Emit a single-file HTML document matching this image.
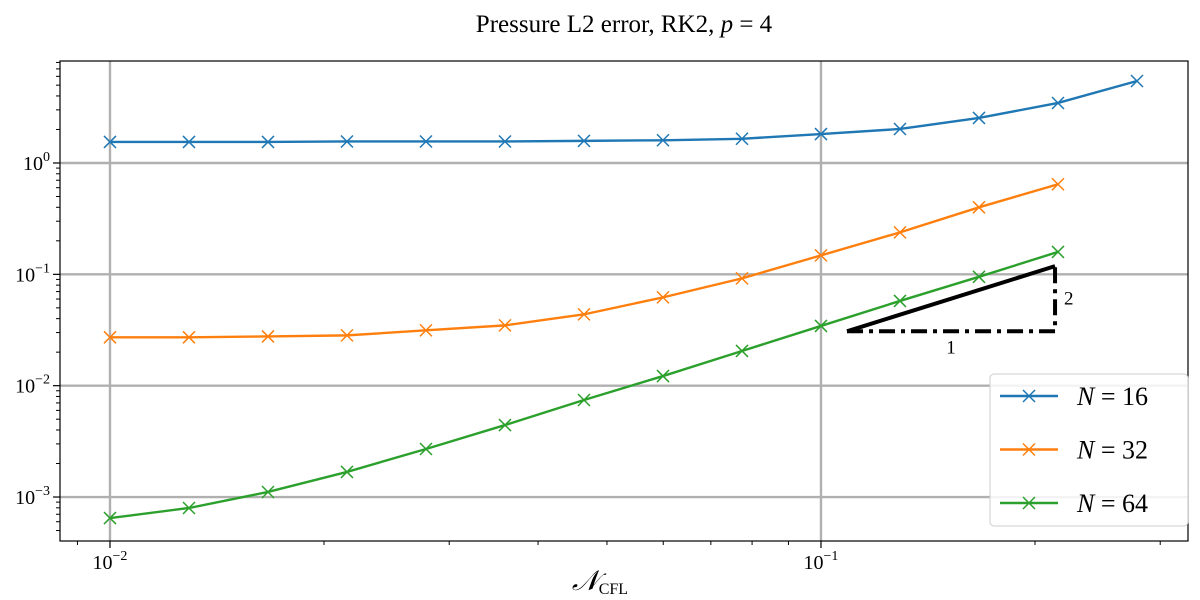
<!DOCTYPE html>
<html><head><meta charset="utf-8">
<style>
html,body{margin:0;padding:0;background:#fff;}
svg{display:block;font-family:"Liberation Serif","DejaVu Serif",serif;}
</style></head>
<body>
<svg id="chart" width="1200" height="600" viewBox="0 0 1200 600">
<text x="624" y="32" font-size="25" text-anchor="middle">Pressure L2 error, RK2, <tspan font-style="italic">p</tspan> = 4</text>
<g id="grid"></g>
<g id="series"></g>
<g id="triangle"></g>
<rect x="60" y="61" width="1128" height="480" fill="none" stroke="#000" stroke-width="1.2"/>
<g id="axes"></g>
<text x="600" y="590" font-size="28" text-anchor="middle"><tspan font-style="italic">𝒩</tspan><tspan font-size="16" dy="4">CFL</tspan></text>
<g id="legend"></g>
</svg>
<script>
const xExp = [0,1,2,3,4,5,6,7,8,9,10,11,12,13];
const seriesNames = ["N = 16","N = 32","N = 64"];
const n16 = [1.545,1.545,1.545,1.56,1.56,1.56,1.58,1.6,1.65,1.82,2.02,2.54,3.46,5.45];
const n32 = [0.0272,0.0272,0.0277,0.0283,0.0314,0.0348,0.0437,0.0621,0.092,0.148,0.238,0.40,0.644];
const n64 = [0.000647,0.000797,0.00111,0.00168,0.0027,0.00443,0.00744,0.0122,0.0205,0.0344,0.0577,0.095,0.159];
const colors = ["#1f77b4","#ff7f0e","#2ca02c"];
const xMajor = [-2,-1];
const yMajor = [-3,-2,-1,0];
const tri = {x0:0.1088, x1:0.2134, y0:0.0308, slope:2};

const NS="http://www.w3.org/2000/svg";
const L=60,R=1188,T=61,B=541;
const xmin=-2.0703,xmax=-0.4838,ymin=-3.395,ymax=0.916;
const X=v=>L+(Math.log10(v)-xmin)/(xmax-xmin)*(R-L);
const Y=v=>B-(Math.log10(v)-ymin)/(ymax-ymin)*(B-T);
function mk(tag,attrs,parent){const e=document.createElementNS(NS,tag);for(const k in attrs)e.setAttribute(k,attrs[k]);parent.appendChild(e);return e;}
const grid=document.getElementById('grid'),axes=document.getElementById('axes');
xMajor.forEach(e=>{const x=X(Math.pow(10,e));
 const g=mk('line',{x1:x,x2:x,y1:T,y2:B,stroke:'#b0b0b0','stroke-width':2.4},grid);
 
 
 mk('line',{x1:x,x2:x,y1:B,y2:B+7,stroke:'#000','stroke-width':1.2},axes);
 const t=mk('text',{x:x,y:B+28,'font-size':20,'text-anchor':'middle'},axes);
 
 
 t.innerHTML='10<tspan font-size="14" dy="-9">'+(e<0?'−':'')+Math.abs(e)+'</tspan>';
});
for(let e=-3;e<=0;e++)for(let m=2;m<=9;m++){const v=m*Math.pow(10,e);const x=X(v);if(x>L&&x<R)mk('line',{x1:x,x2:x,y1:B,y2:B+4,stroke:'#000','stroke-width':1},axes);}
yMajor.forEach(e=>{const y=Y(Math.pow(10,e));
 const g=mk('line',{x1:L,x2:R,y1:y,y2:y,stroke:'#b0b0b0','stroke-width':2.4},grid);
 
 
 mk('line',{x1:L-7,x2:L,y1:y,y2:y,stroke:'#000','stroke-width':1.2},axes);
 const t=mk('text',{x:L-10,y:y+7,'font-size':20,'text-anchor':'end'},axes);
 
 
 t.innerHTML='10<tspan font-size="14" dy="-9">'+(e<0?'−':'')+Math.abs(e)+'</tspan>';
});
for(let e=-4;e<=0;e++)for(let m=2;m<=9;m++){const v=m*Math.pow(10,e);const y=Y(v);if(y>T&&y<B)mk('line',{x1:L-4,x2:L,y1:y,y2:y,stroke:'#000','stroke-width':1},axes);}
const sl=document.getElementById('series');
[n16,n32,n64].forEach((d,i)=>{
 const pts=d.map((v,j)=>[X(0.01*Math.pow(10,xExp[j]/9)),Y(v)]);
 const p=mk('polyline',{points:pts.map(p=>p.join(',')).join(' '),fill:'none',stroke:colors[i],'stroke-width':2.4},sl);
 
 
 pts.forEach(([x,y])=>{const m=mk('path',{d:`M${x-6},${y-6}L${x+6},${y+6}M${x-6},${y+6}L${x+6},${y-6}`,stroke:colors[i],'stroke-width':1.5},sl);
  
  });
});
const tg=document.getElementById('triangle');
const tx0=X(tri.x0),tx1=X(tri.x1),ty0=Y(tri.y0),ty1=Y(tri.y0*Math.pow(tri.x1/tri.x0,tri.slope));
mk('line',{x1:tx0,y1:ty0,x2:tx1,y2:ty1,stroke:'#000','stroke-width':4},tg);
mk('path',{d:`M${tx0},${ty0}H${tx1}V${ty1}`,fill:'none',stroke:'#000','stroke-width':4,'stroke-dasharray':'16,6,4,6'},tg);
mk('text',{x:(tx0+tx1)/2,y:ty0+22,'font-size':19,'text-anchor':'middle'},tg).textContent='1';
mk('text',{x:tx1+9,y:(ty0+ty1)/2+6,'font-size':19},tg).textContent='2';
const lg=document.getElementById('legend');
mk('rect',{x:990,y:374,width:198,height:152,rx:4,fill:'#fff','fill-opacity':0.85,stroke:'#ccc','stroke-width':1},lg);
seriesNames.forEach((n,i)=>{const y=396+i*53.5;
 const g=mk('g',{},lg);
 
 
 mk('line',{x1:1000,x2:1058,y1:y,y2:y,stroke:colors[i],'stroke-width':2.4},g);
 mk('path',{d:`M1023,${y-6}L1035,${y+6}M1023,${y+6}L1035,${y-6}`,stroke:colors[i],'stroke-width':1.5},g);
 const parts=n.split(' = ');
 const t=mk('text',{x:1077,y:y+9,'font-size':26},g);
 t.innerHTML='<tspan font-style="italic">'+parts[0]+'</tspan> = '+parts[1];
});
</script>
</body></html>
